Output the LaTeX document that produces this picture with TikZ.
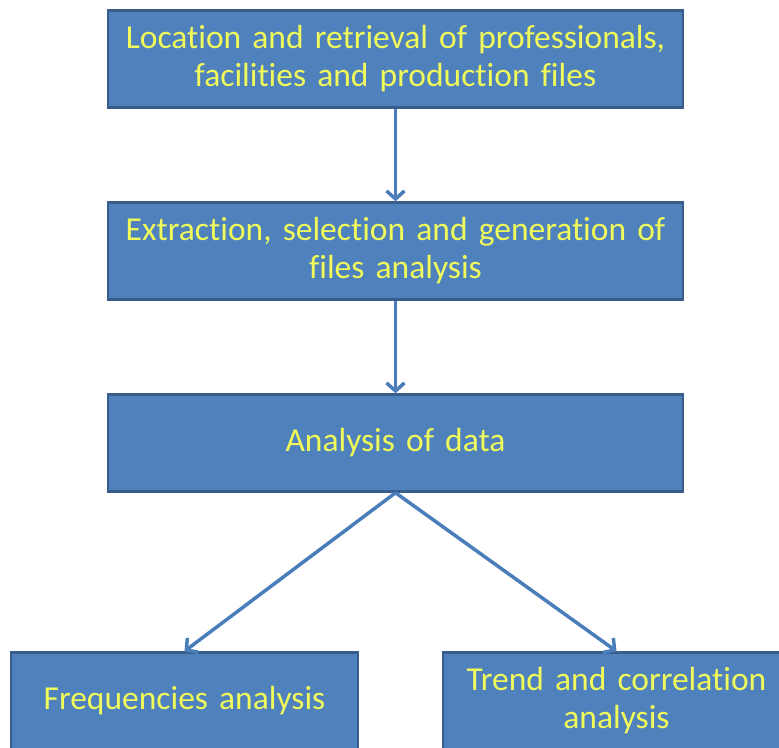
\documentclass[tikz,border=0pt]{standalone}
\usepackage{fontspec}
\setmainfont{Carlito}[Ligatures=NoCommon]
\usepackage{tikz}
\usetikzlibrary{shapes.geometric, arrows, arrows.meta}
\newcommand{\narrowspaces}{\spaceskip=3.5pt plus 1pt\relax}
\definecolor{boxfill}{RGB}{79,129,189}
\definecolor{boxline}{RGB}{56,93,138}
\definecolor{boxtext}{RGB}{240,250,90}
\definecolor{arrowline}{RGB}{74,126,187}
\tikzstyle{process} = [rectangle, minimum width=575pt, minimum height=97pt, text width=565pt, align=center, draw=boxline, line width=2.5pt, fill=boxfill, text=boxtext, font=\fontsize{33.5}{38}\selectfont\narrowspaces]
\tikzstyle{result} = [process, minimum width=346pt, text width=340pt]
\tikzstyle{arrow} = [line width=3.5pt, draw=arrowline, -{Straight Barb[length=8pt, width=18pt]}]

\begin{document}
\begin{tikzpicture}[x=1pt, y=1pt, node distance=192pt]
						\useasboundingbox (0,0) rectangle (779,-747);
						\node (locate) [process] at (395.5,-59) {Location and retrieval of professionals,\\facilities and production files};
						\node (extract) [process, below of=locate] {Extraction, selection and generation of\\files analysis};
						\node (analyse) [process, below of=extract] {Analysis of data};
						\node (freq) [result, below of=analyse, node distance=258pt, xshift=-211pt] {Frequencies analysis};
						\node (trend) [result, below of=analyse, node distance=258pt, xshift=221pt] {Trend and correlation\\analysis};
						\draw [arrow] (locate) -- (extract);
						\draw [arrow] (extract) -- (analyse);
						\draw [arrow] (analyse.south) -- (freq.north);
						\draw [arrow] (analyse.south) -- (trend.north);
					\end{tikzpicture}
\end{document}
